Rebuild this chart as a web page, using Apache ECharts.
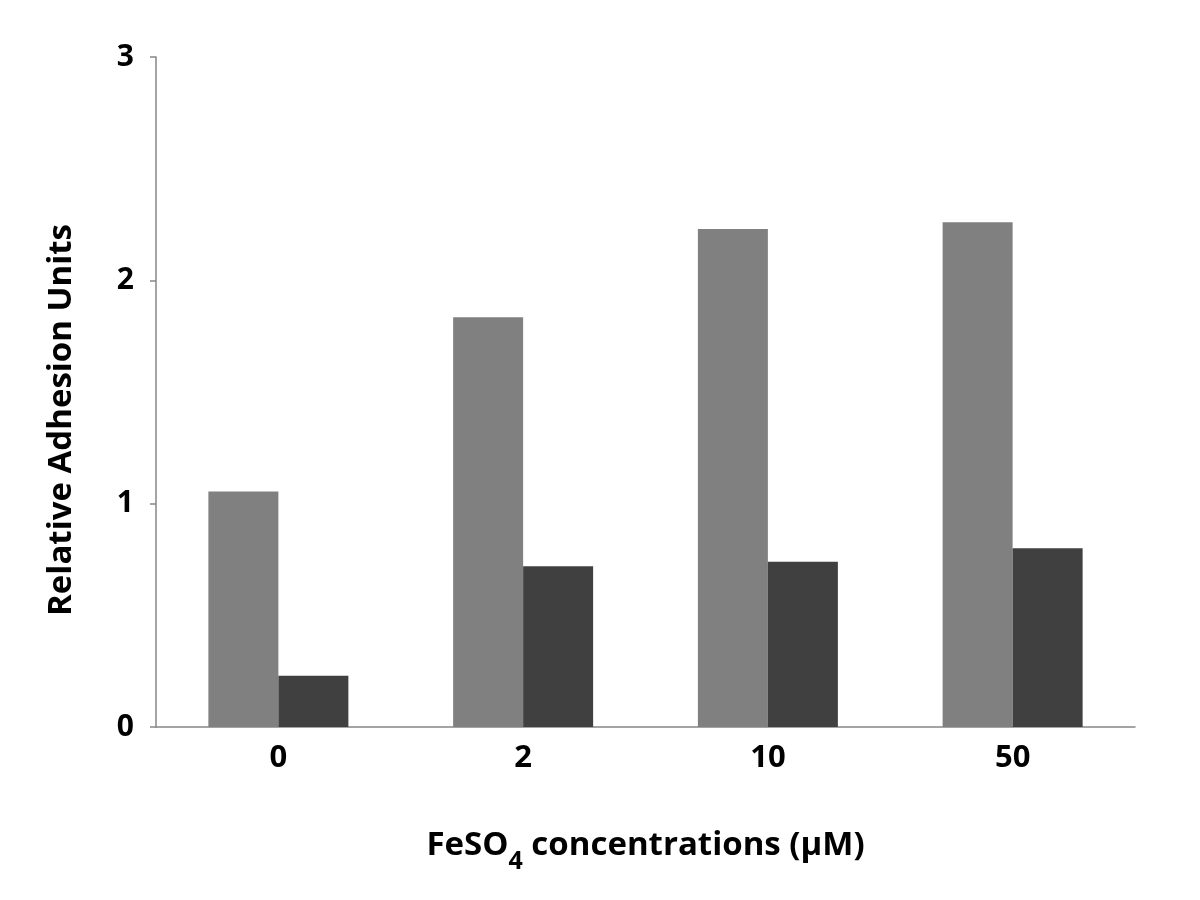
<!DOCTYPE html>
<html><head><meta charset="utf-8">
<script src="https://cdn.jsdelivr.net/npm/echarts@6/dist/echarts.min.js"></script>
<style>html,body{margin:0;padding:0;background:#fff}#c{width:1200px;height:900px}</style>
</head><body><div id="c"></div>
<script>
const categories = ['0', '2', '10', '50'];
const seriesLight = [1.055, 1.835, 2.23, 2.26];
const seriesDark = [0.23, 0.72, 0.74, 0.80];
const yTicks = [0, 1, 2, 3];

const chart = echarts.init(document.getElementById('c'));
const font = '"Open Sans", "Noto Sans", sans-serif';
chart.setOption({
  animation: false,
  backgroundColor: '#fff',
  grid: { left: 156, right: 65, top: 57, bottom: 173, containLabel: false },
  xAxis: {
    type: 'category',
    data: categories,
    axisLine: { lineStyle: { color: '#868686', width: 1.5 } },
    axisTick: { show: false },
    axisLabel: { color: '#000', fontFamily: font, fontWeight: 'bold', fontSize: 31, margin: 16 },
    name: '{a|FeSO}{s|4}{a| concentrations (μM)}',
    nameLocation: 'middle',
    nameGap: 99,
    nameTextStyle: {
      rich: {
        a: { fontFamily: font, fontWeight: 'bold', fontSize: 33, lineHeight: 40, color: '#000' },
        s: { fontFamily: font, fontWeight: 'bold', fontSize: 25, lineHeight: 40, color: '#000', verticalAlign: 'bottom', padding: [0, 0, -8, 0] }
      }
    }
  },
  yAxis: {
    type: 'value',
    min: 0, max: 3, interval: 1,
    axisLine: { show: true, lineStyle: { color: '#868686', width: 1.5 } },
    axisTick: { show: true, length: 6, lineStyle: { color: '#868686', width: 1.5 } },
    splitLine: { show: false },
    axisLabel: { color: '#000', fontFamily: font, fontWeight: 'bold', fontSize: 30, margin: 22,
      formatter: v => yTicks.includes(v) ? String(v) : '' },
    name: 'Relative Adhesion Units',
    nameLocation: 'middle',
    nameGap: 78,
    nameTextStyle: { fontFamily: font, fontWeight: 'bold', fontSize: 33, color: '#000', padding: [0, 56, 0, 0] }
  },
  series: [
    { type: 'bar', data: seriesLight, itemStyle: { color: '#808080' }, barWidth: 70, barGap: '0%' },
    { type: 'bar', data: seriesDark, itemStyle: { color: '#404040' }, barWidth: 70, barGap: '0%' }
  ]
});
</script></body></html>
